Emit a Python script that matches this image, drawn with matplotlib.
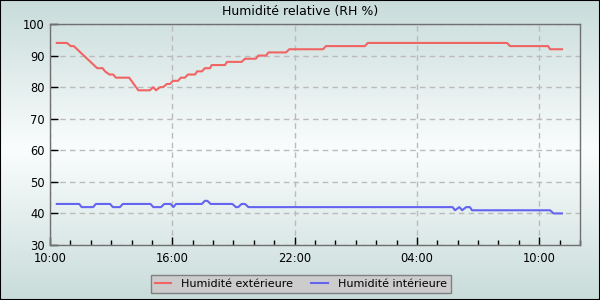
import datetime as dt
import numpy as np
import matplotlib
matplotlib.use('Agg')
from matplotlib import pyplot as plt
import matplotlib.dates as mdates

# relevés (heure, valeur)
ext_heures = ['10:20', '10:50', '11:01', '11:10', '12:19', '12:35', '12:42', '12:55',
              '13:06', '13:14', '13:53', '14:20', '14:54', '15:04', '15:12', '15:24',
              '15:33', '15:44', '15:53', '16:02', '16:17', '16:25', '16:37', '16:46',
              '17:07', '17:13', '17:27', '17:36', '17:51', '17:56', '18:35', '18:41',
              '19:24', '19:34', '20:06', '20:13', '20:36', '20:43', '21:35', '21:44',
              '23:24', '23:32', '01:27', '01:35', '08:25', '08:34', '10:26', '10:32',
              '11:07']
ext_valeurs = [94, 94, 93, 93, 86, 86, 85, 84,
               84, 83, 83, 79, 79, 80, 79, 80,
               80, 81, 81, 82, 82, 83, 83, 84,
               84, 85, 85, 86, 86, 87, 87, 88,
               88, 89, 89, 90, 90, 91, 91, 92,
               92, 93, 93, 94, 94, 93, 93, 92,
               92]

int_heures = ['10:20', '11:26', '11:33', '12:07', '12:15', '12:57', '13:05', '13:26',
              '13:34', '14:56', '15:04', '15:27', '15:36', '15:55', '16:03', '16:11',
              '17:27', '17:36', '17:43', '17:53', '18:57', '19:07', '19:14', '19:24',
              '19:34', '19:44', '05:45', '05:52', '06:05', '06:13', '06:25', '06:36',
              '06:42', '10:32', '10:42', '11:07']
int_valeurs = [43, 43, 42, 42, 43, 43, 42, 42,
               43, 43, 42, 42, 43, 43, 42, 43,
               43, 44, 44, 43, 43, 42, 42, 43,
               43, 42, 42, 41, 42, 41, 42, 42,
               41, 41, 40, 40]

debut = dt.datetime(2024, 5, 1, 10, 0)
fin = debut + dt.timedelta(hours=26)


def to_dates(heures):
    # passe au jour suivant quand l'heure repart à zéro
    res = []
    jour = debut.date()
    prec = None
    for h in heures:
        t = dt.datetime.strptime(h, '%H:%M').time()
        if prec is not None and t < prec:
            jour = jour + dt.timedelta(days=1)
        prec = t
        res.append(dt.datetime.combine(jour, t))
    return res


plt.rcParams['font.family'] = ['DejaVu Sans']
fig = plt.figure(figsize=(6, 3), dpi=100)

# fond en dégradé
bg = fig.add_axes([0, 0, 1, 1])
c_bord = np.array([200, 220, 218]) / 255
c_milieu = np.array([250, 253, 253]) / 255
t = np.abs(np.linspace(-1, 1, 300))[:, None]
grad = c_milieu + (c_bord - c_milieu) * t
bg.imshow(grad[:, None, :], aspect='auto', extent=[0, 1, 0, 1])
bg.set_xticks([])
bg.set_yticks([])
for s in bg.spines.values():
    s.set_color('black')
    s.set_linewidth(1.5)

ax = fig.add_axes([50 / 600, 55 / 300, 530 / 600, 221 / 300])
ax.set_facecolor('none')
ax.plot(to_dates(ext_heures), ext_valeurs, color='#f06464', lw=1.5, label='Humidité extérieure')
ax.plot(to_dates(int_heures), int_valeurs, color='#6464f0', lw=1.5, label='Humidité intérieure')

ax.set_xlim(debut, fin)
ax.set_ylim(30, 100)
ax.set_yticks(range(30, 101, 10))
ax.xaxis.set_major_locator(mdates.HourLocator(byhour=[4, 10, 16, 22]))
ax.xaxis.set_minor_locator(mdates.HourLocator())
ax.xaxis.set_major_formatter(mdates.DateFormatter('%H:%M'))
ax.tick_params(axis='both', which='major', direction='in', length=6, width=1,
               color='black', labelsize=8.3)
ax.tick_params(axis='y', which='major', pad=4)
ax.tick_params(axis='x', which='major', pad=5)
ax.tick_params(axis='x', which='minor', direction='in', length=3.5, width=1, color='black')
ax.grid(True, which='major', color='#bbbbbb', linestyle=(0, (4, 3)), linewidth=1)
for s in ax.spines.values():
    s.set_color('#707070')
    s.set_linewidth(1)

fig.text(0.5, 0.96, 'Humidité relative (RH %)', ha='center', va='center', fontsize=9)

leg = fig.legend(loc='center', bbox_to_anchor=(0.501, 0.053), ncol=2, fontsize=8,
                 frameon=True, fancybox=False, framealpha=1, edgecolor='#808080',
                 facecolor='#cccccc', handlelength=1.5, handletextpad=0.9,
                 columnspacing=1.6, borderpad=0.35)
leg.get_frame().set_linewidth(1)

fig.savefig('out.png', dpi=100)
